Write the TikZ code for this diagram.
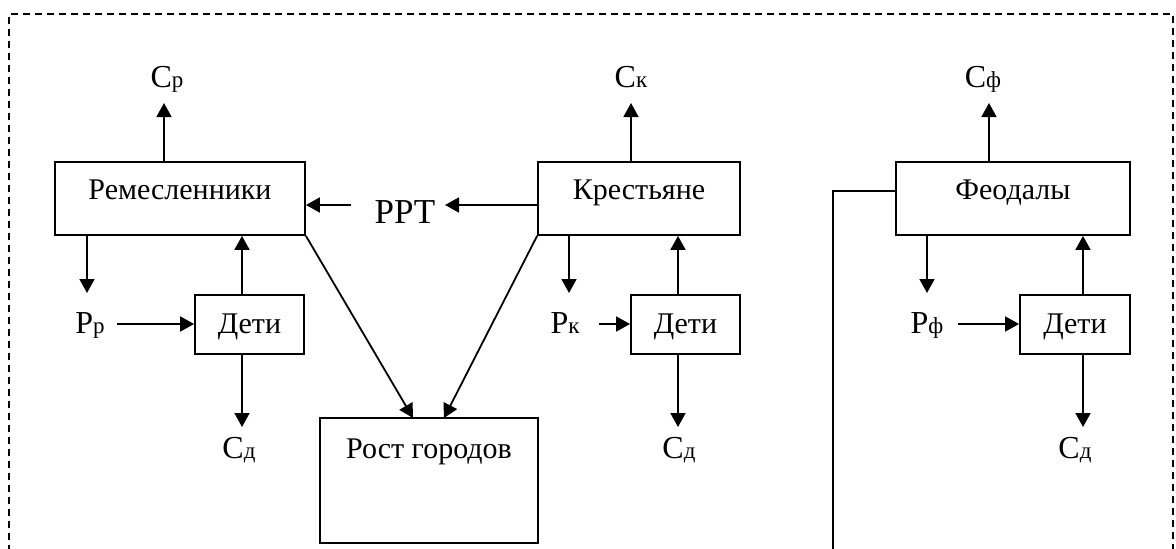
\documentclass[tikz,border=0pt]{standalone}
\usepackage{fontspec}
\setmainfont{Liberation Serif}
\usetikzlibrary{arrows.meta}
\newcommand{\lsmall}[1]{{\fontsize{23}{28}\selectfont #1}}
\begin{document}
\begin{tikzpicture}[x=1pt,y=-1pt,
  box/.style={draw, line width=1.8pt, inner sep=0pt},
  txt/.style={anchor=base, inner sep=0pt, font=\fontsize{30}{36}\selectfont},
  lab/.style={anchor=base, inner sep=0pt, font=\fontsize{32}{38}\selectfont},
  big/.style={anchor=base, inner sep=0pt, font=\fontsize{35}{42}\selectfont},
  arr/.style={line width=1.8pt, -{Triangle[length=14pt,width=15pt]}},
  ln/.style={line width=1.8pt}]
\useasboundingbox (0,0) rectangle (1176,549);
\clip (0,0) rectangle (1176,549);
% frame
\draw[line width=1.7pt, dash pattern=on 7pt off 5pt] (9,600) -- (9,14) -- (1173,14) -- (1173,600);
% boxes
\node[box, minimum width=250pt, minimum height=73pt] (rem) at (180,198.5) {};
\node[box, minimum width=202pt, minimum height=73pt] (kr) at (639,198.5) {};
\node[box, minimum width=234pt, minimum height=73pt] (feo) at (1013,198.5) {};
\node[box, minimum width=109pt, minimum height=59pt] (d1) at (249.5,324.5) {};
\node[box, minimum width=109pt, minimum height=59pt] (d2) at (685.5,324.5) {};
\node[box, minimum width=110pt, minimum height=59pt] (d3) at (1075,324.5) {};
\node[box, minimum width=218pt, minimum height=125pt] (rost) at (429,480.5) {};
% box texts
\node[txt] (tRem) at (180,199) {Ремесленники};
\node[txt] (tKr) at (639,199) {Крестьяне};
\node[txt] (tFeo) at (1013,199) {Феодалы};
\node[txt] (tD1) at (249.5,333) {Дети};
\node[txt] (tD2) at (685.5,333) {Дети};
\node[txt] (tD3) at (1075,333) {Дети};
\node[txt] (tRost) at (429,458) {Рост городов};
% labels
\node[lab] (cr) at (167,87) {С\lsmall{р}};
\node[lab] (ck) at (631,87) {С\lsmall{к}};
\node[lab] (cf) at (983,87) {С\lsmall{ф}};
\node[lab] (pr) at (90,333) {Р\lsmall{р}};
\node[lab] (pk) at (565,333) {Р\lsmall{к}};
\node[lab] (pf) at (927,333) {Р\lsmall{ф}};
\node[lab] (cd1) at (239,458) {С\lsmall{д}};
\node[lab] (cd2) at (679,458) {С\lsmall{д}};
\node[lab] (cd3) at (1075,458) {С\lsmall{д}};
\node[big] (rrt) at (405,223) {РРТ};
% coordinates
\coordinate (crA) at (164,103);
\coordinate (prA) at (87,293);
\coordinate (prB) at (117,324);
\coordinate (d1A) at (242,0);
\coordinate (cd1A) at (242,427);
\coordinate (rrtR) at (351,205);
\coordinate (rrtL) at (445,205);
\coordinate (rostA) at (413,418);
\coordinate (rostB) at (444,418);
\coordinate (ckA) at (631,103);
\coordinate (pkA) at (569,293);
\coordinate (pkB) at (599,324);
\coordinate (d2A) at (678,0);
\coordinate (cd2A) at (678,427);
\coordinate (cfA) at (989,103);
\coordinate (pfA) at (927,293);
\coordinate (pfB) at (958,324);
\coordinate (d3A) at (1083,0);
\coordinate (cd3A) at (1083,427);
\coordinate (feoL) at (833,191);
\coordinate (feoB) at (833,560);
% Ремесленники
\draw[arr] (rem.north -| crA) -- (crA);
\draw[arr] (rem.south -| prA) -- (prA);
\draw[arr] (prB) -- (d1.west |- prB);
\draw[arr] (d1.north -| d1A) -- (rem.south -| d1A);
\draw[arr] (d1.south -| d1A) -- (cd1A);
\draw[arr] (rrtR) -- (rem.east |- rrtR);
\draw[arr] (rem.south east) -- (rostA);
% Крестьяне
\draw[arr] (kr.west |- rrtL) -- (rrtL);
\draw[arr] (kr.south west) -- (rostB);
\draw[arr] (kr.north -| ckA) -- (ckA);
\draw[arr] (kr.south -| pkA) -- (pkA);
\draw[arr] (pkB) -- (d2.west |- pkB);
\draw[arr] (d2.north -| d2A) -- (kr.south -| d2A);
\draw[arr] (d2.south -| d2A) -- (cd2A);
% Феодалы
\draw[arr] (feo.north -| cfA) -- (cfA);
\draw[arr] (feo.south -| pfA) -- (pfA);
\draw[arr] (pfB) -- (d3.west |- pfB);
\draw[arr] (d3.north -| d3A) -- (feo.south -| d3A);
\draw[arr] (d3.south -| d3A) -- (cd3A);
\draw[ln] (feo.west |- feoL) -- (feoL) -- (feoB);
\end{tikzpicture}
\end{document}
